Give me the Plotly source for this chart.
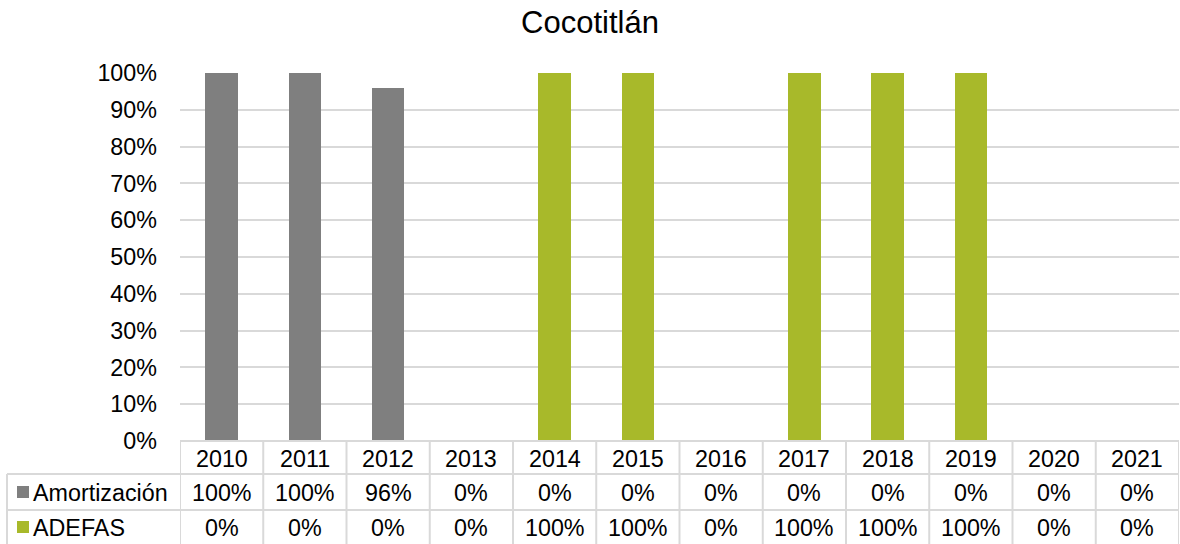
import plotly.graph_objects as go

# ---- data ----
years = ["2010", "2011", "2012", "2013", "2014", "2015", "2016", "2017", "2018", "2019", "2020", "2021"]
amortizacion = [100, 100, 96, 0, 0, 0, 0, 0, 0, 0, 0, 0]
adefas = [0, 0, 0, 0, 100, 100, 0, 100, 100, 100, 0, 0]
series_names = ["Amortización", "ADEFAS"]
title_text = "Cocotitlán"

# ---- style ----
W, H = 1180, 544
GRAY = "#7F7F7F"
GREEN = "#A8B92A"
LINE = "#D9D9D9"
FONT = "Liberation Sans, Arial, sans-serif"
FS = 23.3


def py(ypx):
    return 1 - ypx / H


def px(xpx):
    return xpx / W


x_idx = list(range(len(years)))
fig = go.Figure()
for name, vals, col in [(series_names[0], amortizacion, GRAY), (series_names[1], adefas, GREEN)]:
    fig.add_trace(go.Bar(x=x_idx, y=[v / 100 for v in vals], name=name,
                         marker=dict(color=col, line=dict(width=0)), width=0.39,
                         showlegend=False))

top_y, row1, row2, bot = 441, 474, 510, 544
shapes = []
for k in range(len(years) + 1):
    shapes.append(dict(type="line", xref="x", yref="paper", x0=k - 0.5, x1=k - 0.5,
                       y0=py(top_y), y1=py(bot), line=dict(color=LINE, width=2)))
shapes.append(dict(type="line", xref="x", yref="paper", x0=-0.5, x1=len(years) - 0.5,
                   y0=py(top_y), y1=py(top_y), line=dict(color=LINE, width=2)))
for yy in (row1, row2):
    shapes.append(dict(type="line", xref="paper", yref="paper", x0=px(7), x1=px(1179),
                       y0=py(yy), y1=py(yy), line=dict(color=LINE, width=2)))
shapes.append(dict(type="line", xref="paper", yref="paper", x0=px(7), x1=px(7),
                   y0=py(row1), y1=py(bot), line=dict(color=LINE, width=2)))
for (yc, col) in [((row1 + row2) / 2, GRAY), ((row2 + bot) / 2, GREEN)]:
    shapes.append(dict(type="rect", xref="paper", yref="paper", x0=px(17), x1=px(29),
                       y0=py(yc + 6), y1=py(yc - 6), fillcolor=col, line=dict(width=0)))

annotations = []
hdr_c, r1_c, r2_c = 459, 493, 528
for i, yr in enumerate(years):
    annotations.append(dict(x=i, y=py(hdr_c), xref="x", yref="paper", text=yr, showarrow=False,
                            font=dict(family=FONT, size=FS, color="#000"), xanchor="center", yanchor="middle"))
    annotations.append(dict(x=i, y=py(r1_c), xref="x", yref="paper", text=f"{amortizacion[i]}%", showarrow=False,
                            font=dict(family=FONT, size=FS, color="#000"), xanchor="center", yanchor="middle"))
    annotations.append(dict(x=i, y=py(r2_c), xref="x", yref="paper", text=f"{adefas[i]}%", showarrow=False,
                            font=dict(family=FONT, size=FS, color="#000"), xanchor="center", yanchor="middle"))
for name, yc in [(series_names[0], r1_c), (series_names[1], r2_c)]:
    annotations.append(dict(x=px(31), y=py(yc), xref="paper", yref="paper", text=name, showarrow=False,
                            font=dict(family=FONT, size=FS, color="#000"), xanchor="left", yanchor="middle"))

fig.update_layout(
    width=W, height=H,
    margin=dict(l=0, r=0, t=0, b=0, autoexpand=False),
    paper_bgcolor="white", plot_bgcolor="white",
    barmode="stack",
    title=dict(text=title_text, x=0.5, xanchor="center", y=py(22), yanchor="middle",
               font=dict(family=FONT, size=31, color="#000"), automargin=False),
    xaxis=dict(domain=[px(180), px(1179)], range=[-0.5, len(years) - 0.5], automargin=False,
               showticklabels=False, showgrid=False, zeroline=False, showline=False, ticks=""),
    yaxis=dict(domain=[py(441), py(73)], range=[0, 1], tickformat=".0%", dtick=0.1,
               automargin=False,
               showgrid=True, gridcolor=LINE, gridwidth=2, zeroline=False, showline=False,
               ticks="", ticklabelstandoff=22,
               tickfont=dict(family=FONT, size=FS, color="#000")),
    shapes=shapes,
    annotations=annotations,
)

fig.write_html("out.html", config={"displayModeBar": False},
               post_script="document.body.style.margin='0';document.body.style.overflow='hidden';")
